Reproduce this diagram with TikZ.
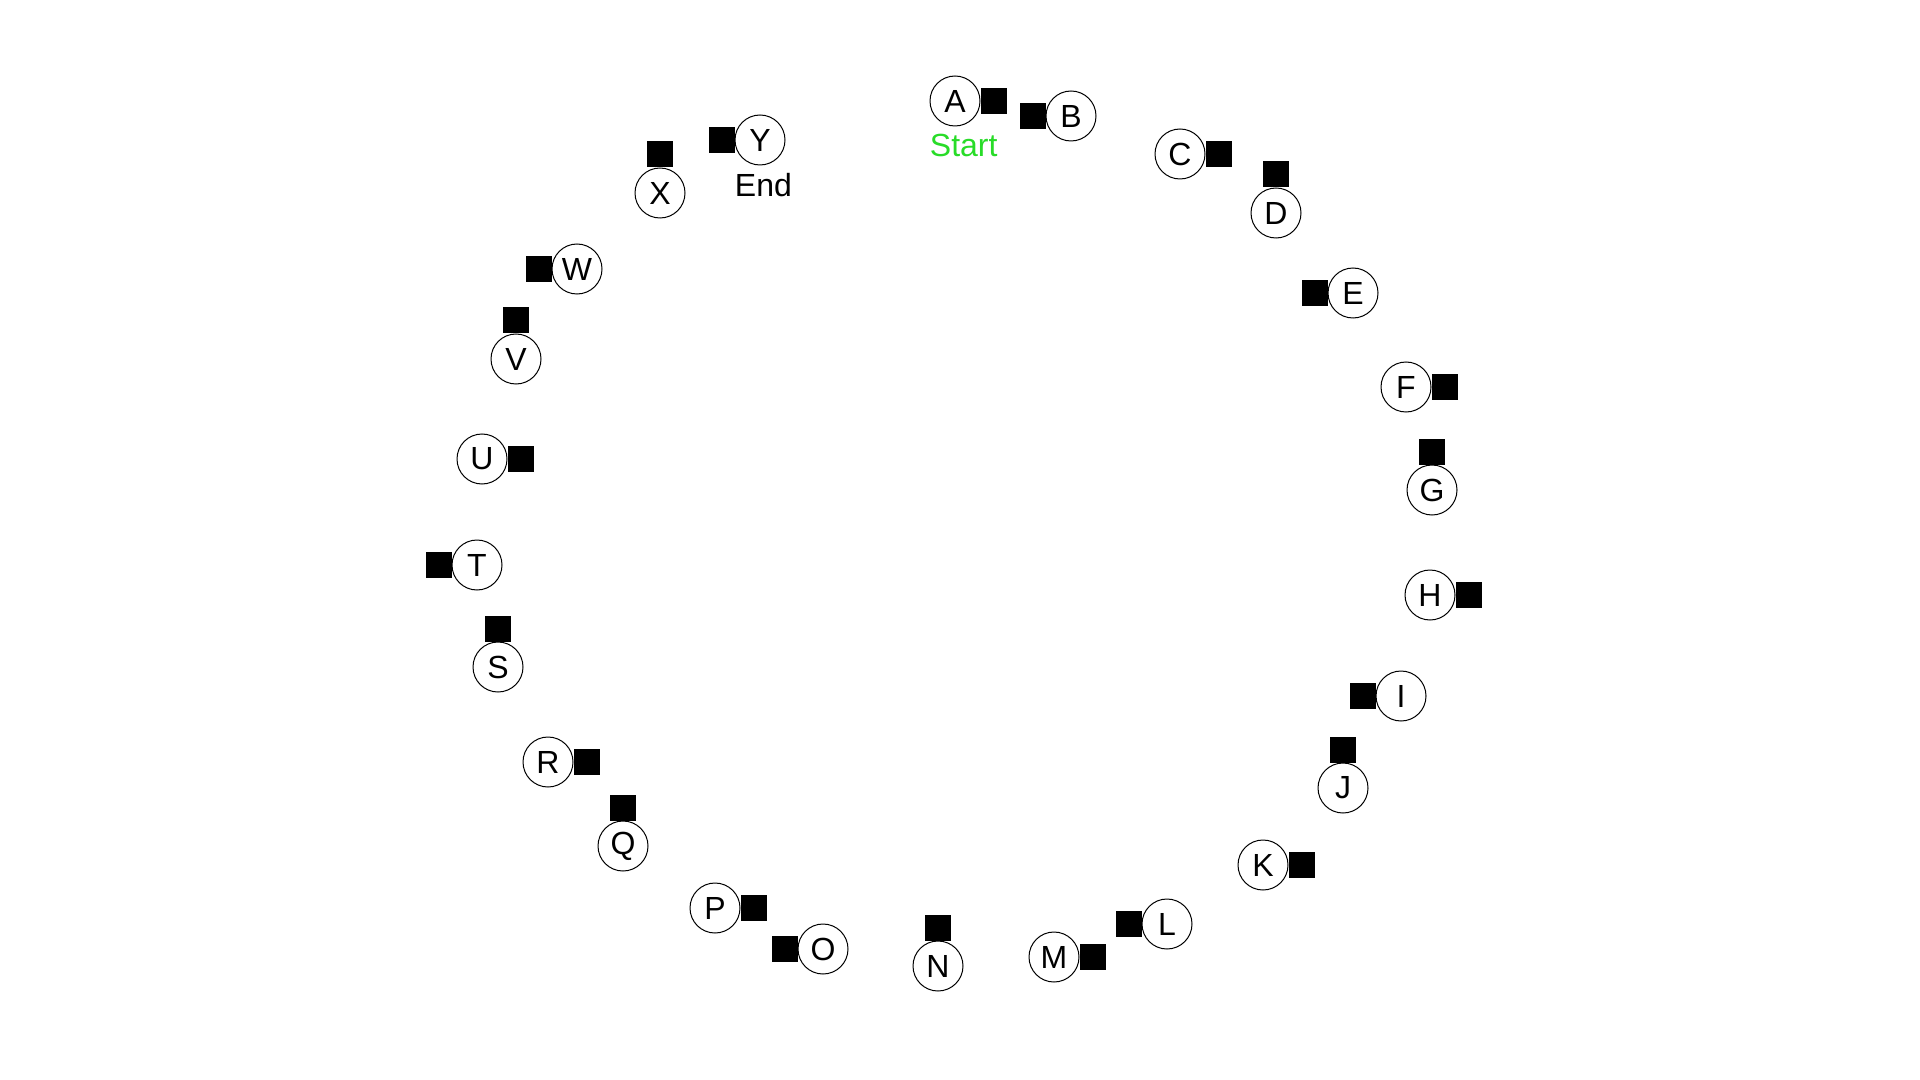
\documentclass[tikz,border=0pt]{standalone}
\usepackage{fontspec}
\setmainfont{Liberation Sans}
\definecolor{startgreen}{RGB}{40,220,40}
\begin{document}
\begin{tikzpicture}[x=0.5pt,y=-0.5pt,
  vtx/.style={circle,draw=black,line width=0.5pt,fill=white,minimum size=25pt,inner sep=0pt,font=\fontsize{16}{19}\selectfont},
  sq/.style={rectangle,fill=black,draw=none,minimum size=13pt,inner sep=0pt,outer sep=0pt},
  lbl/.style={inner sep=0pt,font=\fontsize{16}{19}\selectfont,anchor=north west}]
\useasboundingbox[fill=white] (0,0) rectangle (1920,1080);
% vertices
\foreach \n/\x/\y in {A/955/101,B/1071/116,C/1180/154,D/1276/213,E/1353/293,F/1406/387,G/1432/490,H/1430/595,I/1401/696,J/1343/788,K/1263/865,L/1167/924,M/1054/957,N/938/966,O/823/949,P/715/908,Q/623/846,R/548/762,S/498/667,T/477/565,U/482/459,V/516/359,W/577/269,X/660/193,Y/760/140}
  \node[vtx] (\n) at (\x,\y) {\n};
% squares to the right
\foreach \n in {A,C,F,H,K,M,P,R,U}
  \node[sq,anchor=west] (\n sq) at (\n.east) {};
% squares to the left
\foreach \n in {B,E,I,L,O,T,W,Y}
  \node[sq,anchor=east] (\n sq) at (\n.west) {};
% squares above
\foreach \n in {D,G,J,N,Q,S,V,X}
  \node[sq,anchor=south] (\n sq) at (\n.north) {};
% labels
\node[lbl,text=startgreen,yshift=-3.5pt] (startlbl) at (A.west |- A.south) {Start};
\node[lbl,text=black,yshift=-3.5pt] (endlbl) at (Y.west |- Y.south) {End};
\end{tikzpicture}
\end{document}
